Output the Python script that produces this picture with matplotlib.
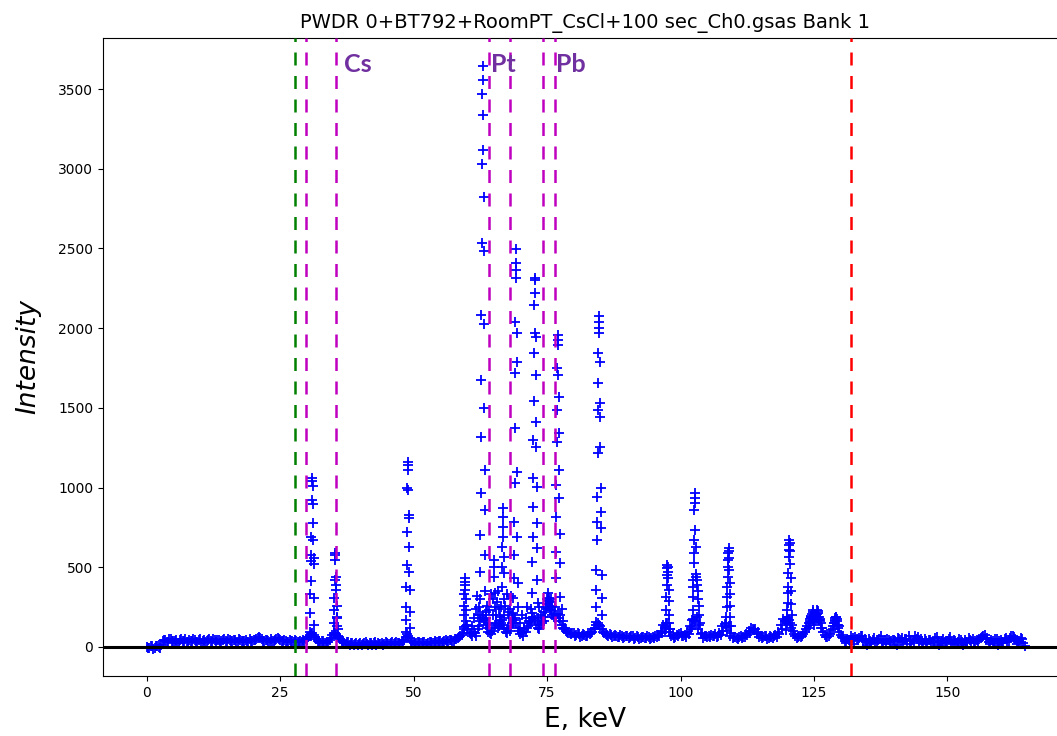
import matplotlib
matplotlib.use("Agg")
import matplotlib.pyplot as plt
import numpy as np

# ---------------- data ----------------
title = "PWDR 0+BT792+RoomPT_CsCl+100 sec_Ch0.gsas Bank 1"

# background channels, first set: start 0.0 keV, step 0.5 keV
bg_a_start, bg_step = 0.0, 0.5
bg_a_counts = [
    3, -9, 6, -5, 9, -7,
    38, 45, 30, 48, 36, 42, 28, 47, 39, 33,
    46, 37, 41, 29, 48, 40, 34, 45, 38, 50,
    31, 44, 39, 47, 33, 42, 36, 45, 30, 41,
    37, 44, 32, 40, 46, 52, 62, 48, 38, 43,
    31, 40, 45, 58, 44, 35, 40, 30, 38, 33,
    36, 29, 34, 40,
    45, 70, 85, 60, 40, 28, 35, 22, 30, 55, 90, 80, 60, 38, 25, 30, 15, 27, 20, 12,
    24, 18, 30, 14, 22, 26, 10, 21, 28, 16, 25, 19, 31, 22, 28, 20, 35, 60, 70, 40,
    28, 22, 33, 25, 30, 20, 34, 27, 36, 29, 38, 31, 42, 35, 45, 40, 52, 60, 75, 110,
    140, 90, 70, 85, 110, 160, 200, 140, 95, 80, 120, 150, 130, 170, 110, 85, 100, 150, 180, 120,
    80, 70, 95, 130, 160, 190, 140, 110, 160, 220, 270, 250, 200, 180, 210, 160, 120, 100, 90, 80,
    85, 75, 80, 70, 78, 72, 80, 95, 120, 150, 130, 95, 80, 70, 76, 66, 72, 64, 70, 62,
    68, 60, 66, 58, 64, 56, 62, 55, 60, 54, 58, 62, 70, 85, 120, 150, 110, 75, 62, 70,
    85, 72, 65, 80, 110, 160, 190, 140, 90, 70, 62, 60, 70, 80, 66, 75, 100, 150, 130, 85,
    65, 58, 62, 55, 65, 75, 90, 110, 115, 95, 70, 60, 66, 58, 62, 70, 64, 80, 110, 160,
    180, 150, 100, 70, 60, 65, 80, 110, 150, 190, 140, 210, 170, 120, 75, 60, 80, 130, 160, 120,
    75, 55, 28, 42, 66, 20, 50, 58, 66, 52, 14, 38, 45, 22, 42, 68, 40, 18, 44, 38,
    46, 12, 52, 58, 48, 20, 36, 44, 70, 60, 52, 16, 36, 44, 24, 32, 62, 10, 40, 30,
    38, 64, 18, 40, 32, 45, 15, 34, 56, 36, 22, 44, 50, 62, 75, 55, 20, 36, 48, 12,
    44, 24, 58, 40, 66, 64, 18, 35, 48, 8,
]
# background channels, second set: start 0.25 keV, step 0.5 keV
bg_b_start = 0.25
bg_b_counts = [
    -4, 7, -10, 4, -2, 10,
    44, 32, 50, 35, 40, 26, 45, 37, 49, 31,
    40, 52, 33, 44, 27, 43, 37, 48, 34, 42,
    46, 28, 41, 35, 50, 38, 43, 29, 47, 36,
    40, 30, 49, 38, 42, 58, 54, 40, 46, 35,
    48, 37, 52, 50, 38, 45, 32, 44, 36, 41,
    30, 40, 45, 52,
    60, 80, 75, 50, 32, 38, 26, 33, 42, 75, 85, 70, 48, 30, 20, 34, 22, 12, 28, 18,
    10, 27, 20, 25, 15, 30, 24, 18, 12, 29, 20, 26, 17, 32, 24, 30, 45, 80, 55, 33,
    20, 30, 24, 34, 18, 28, 32, 22, 30, 40, 28, 36, 32, 45, 38, 50, 55, 68, 90, 130,
    110, 80, 95, 70, 130, 180, 170, 120, 85, 100, 140, 120, 160, 140, 95, 120, 130, 170, 150, 100,
    90, 110, 120, 150, 180, 170, 120, 140, 190, 250, 290, 230, 190, 200, 180, 140, 110, 95, 85, 90,
    70, 88, 65, 82, 68, 86, 90, 110, 140, 140, 110, 85, 75, 80, 62, 78, 60, 74, 58, 72,
    56, 70, 52, 68, 50, 64, 58, 66, 50, 64, 68, 75, 100, 135, 130, 95, 68, 58, 76, 80,
    66, 74, 95, 130, 175, 165, 110, 80, 58, 72, 66, 78, 72, 62, 88, 130, 145, 100, 70, 58,
    64, 50, 68, 60, 82, 100, 120, 105, 80, 64, 55, 70, 52, 68, 58, 76, 95, 140, 175, 165,
    170, 120, 80, 55, 72, 70, 95, 130, 175, 160, 180, 190, 150, 95, 62, 70, 105, 150, 140, 95,
    62, 40, 52, 35, 55, 62, 45, 70, 40, 30, 48, 25, 55, 33, 50, 28, 44, 52, 30, 46,
    36, 55, 42, 30, 52, 66, 38, 28, 48, 40, 30, 50, 26, 46, 34, 54, 40, 28, 48, 22,
    48, 30, 44, 26, 50, 34, 42, 28, 46, 52, 36, 40, 58, 72, 48, 30, 44, 26, 50, 38,
    30, 52, 34, 56, 70, 48, 30, 56, 22,
]

# peak channels: energy (keV) and counts
peak_energy = [
    # Cs K-alpha
    30.55, 30.6, 30.65, 30.7, 30.75, 30.8, 30.85, 30.9, 30.95, 31.0,
    31.05, 31.1, 31.15, 31.2, 31.25, 31.3, 31.35, 31.4, 31.45,
    # Cs K-beta
    35.0, 35.05, 35.1, 35.15, 35.2, 35.25, 35.3, 35.35, 35.4, 35.45,
    35.5, 35.55, 35.6, 35.65, 35.7, 35.75, 35.8,
    # 48.9 keV
    48.5, 48.55, 48.6, 48.65, 48.7, 48.75, 48.8, 48.85, 48.9, 48.95,
    49.0, 49.05, 49.1, 49.15, 49.2, 49.25, 49.3, 49.35,
    # 59.6 keV
    59.35, 59.4, 59.45, 59.5, 59.55, 59.6, 59.65, 59.7, 59.75, 59.8, 59.85, 59.9,
    # main 62.9 keV
    62.35, 62.4, 62.45, 62.5, 62.55, 62.6, 62.65, 62.7, 62.75, 62.8,
    62.85, 62.9, 62.95, 63.0, 63.05, 63.1, 63.15, 63.2, 63.25, 63.3,
    63.35, 63.4, 63.45, 63.5,
    # 65.1 keV
    64.9, 64.95, 65.0, 65.05, 65.1, 65.15, 65.2,
    # 66.7 keV
    66.4, 66.45, 66.5, 66.55, 66.6, 66.65, 66.7, 66.75, 66.8, 66.85, 66.9, 66.95, 67.0,
    # cluster floor 61-78 keV
    61.0, 61.3, 61.6, 61.9, 62.1, 62.3, 63.6, 63.8, 64.0, 64.2, 64.4,
    65.4, 65.6, 65.8, 66.0, 66.2, 67.2, 67.4, 67.6, 67.8, 68.0, 68.2, 68.4,
    70.0, 70.3, 70.6, 71.0, 71.3, 71.6, 71.9, 73.5, 73.8, 74.1, 77.7, 78.0, 78.3,
    # 69.1 keV
    68.6, 68.65, 68.7, 68.75, 68.8, 68.85, 68.9, 68.95, 69.0, 69.05,
    69.1, 69.15, 69.2, 69.25, 69.3, 69.35, 69.4, 69.45, 69.5, 69.55,
    # 72.6 keV
    72.15, 72.2, 72.25, 72.3, 72.35, 72.4, 72.45, 72.5, 72.55, 72.6,
    72.65, 72.7, 72.75, 72.8, 72.85, 72.9, 72.95, 73.0, 73.05, 73.1,
    73.15, 73.2, 73.25, 73.3,
    # 74.4-76.2 hump
    74.4, 74.6, 74.8, 75.0, 75.1, 75.2, 75.3, 75.4, 75.5, 75.6, 75.7, 75.8, 76.0, 76.2,
    # 77.0 keV
    76.55, 76.6, 76.65, 76.7, 76.75, 76.8, 76.85, 76.9, 76.95, 77.0,
    77.05, 77.1, 77.15, 77.2, 77.25, 77.3, 77.35, 77.4, 77.45, 77.5,
    # 84.6 keV
    84.1, 84.15, 84.2, 84.25, 84.3, 84.35, 84.4, 84.45, 84.5, 84.55,
    84.6, 84.65, 84.7, 84.75, 84.8, 84.85, 84.9, 84.95, 85.0, 85.05,
    85.1, 85.15, 85.2, 85.25, 85.3,
    # 97.6 keV
    97.1, 97.2, 97.3, 97.35, 97.4, 97.45, 97.5, 97.55, 97.6, 97.65,
    97.7, 97.75, 97.8, 97.85, 97.9, 98.0,
    # 102.7 keV
    102.1, 102.2, 102.25, 102.3, 102.35, 102.4, 102.45, 102.5, 102.55, 102.6,
    102.65, 102.7, 102.75, 102.8, 102.85, 102.9, 102.95, 103.0, 103.1, 103.2,
    103.3, 103.4, 103.5, 103.6,
    # 109.0 keV
    108.5, 108.6, 108.65, 108.7, 108.75, 108.8, 108.85, 108.9, 108.95, 109.0,
    109.05, 109.1, 109.15, 109.2, 109.25, 109.3, 109.35, 109.4,
    # 120.4 keV
    119.8, 119.9, 119.95, 120.0, 120.05, 120.1, 120.15, 120.2, 120.25, 120.3,
    120.35, 120.4, 120.45, 120.5, 120.55, 120.6, 120.65, 120.7, 120.8, 120.9,
    # 125 keV doublet
    124.0, 124.2, 124.3, 124.4, 124.5, 124.6, 124.8, 124.9, 125.0, 125.2,
    125.4, 125.5, 125.6, 125.7, 125.8, 126.0, 126.1, 126.2, 126.4,
    # 129.2 keV
    128.6, 128.8, 128.9, 129.0, 129.1, 129.2, 129.3, 129.4, 129.5, 129.6,
]
peak_counts = [
    95, 215, 330, 415, 540, 580, 690, 920, 1040, 1060,
    1010, 900, 780, 670, 560, 520, 305, 140, 60,
    80, 150, 230, 310, 420, 575, 590, 545, 440, 390,
    360, 260, 190, 180, 130, 110, 60,
    95, 170, 250, 375, 515, 720, 1000, 1140, 1160, 1110,
    985, 830, 810, 630, 470, 355, 220, 120,
    125, 200, 260, 330, 390, 430, 410, 360, 300, 230, 160, 110,
    200, 300, 470, 703, 966, 1318, 1675, 2083, 2534, 3030,
    3469, 3645, 3557, 3337, 3118, 2823, 2484, 2026, 1500, 1110,
    860, 577, 350, 220,
    200, 300, 440, 545, 500, 340, 250,
    150, 250, 375, 500, 627, 750, 870, 815, 690, 565, 465, 300, 200,
    130, 180, 240, 320, 200, 250, 180, 260, 150, 230, 330,
    200, 280, 350, 240, 190, 260, 330, 220, 180, 240, 320, 200,
    150, 200, 120, 180, 250, 160, 240, 250, 200, 150, 240, 160, 120,
    150, 213, 307, 433, 577, 785, 1030, 1375, 1720, 2040,
    2365, 2497, 2410, 2315, 1970, 1790, 1100, 690, 400, 250,
    213, 339, 533, 690, 878, 1060, 1299, 1543, 1844, 2145,
    2315, 2302, 2220, 1970, 1945, 1706, 1412, 1255, 1004, 778,
    621, 420, 276, 180,
    160, 190, 240, 300, 270, 340, 290, 310, 240, 280, 300, 230, 260, 210,
    251, 433, 596, 816, 1016, 1286, 1487, 1750, 1926, 1957,
    1895, 1706, 1568, 1343, 1110, 935, 709, 527, 314, 200,
    157, 251, 358, 483, 671, 784, 941, 1217, 1487, 1656,
    1844, 1970, 2040, 2077, 2000, 1790, 1530, 1443, 1255, 997,
    847, 746, 452, 307, 201,
    95, 150, 235, 315, 390, 450, 495, 515, 500, 470,
    430, 360, 290, 200, 150, 110,
    125, 169, 232, 314, 376, 420, 527, 590, 671, 860,
    935, 966, 903, 734, 627, 460, 440, 420, 390, 350,
    300, 260, 200, 150,
    125, 188, 251, 314, 376, 439, 502, 546, 590, 621,
    600, 560, 480, 400, 330, 260, 190, 130,
    107, 150, 188, 232, 276, 339, 376, 464, 565, 608,
    640, 671, 650, 600, 520, 430, 350, 270, 200, 140,
    120, 150, 165, 180, 195, 210, 230, 220, 200, 170,
    200, 180, 230, 225, 215, 190, 175, 160, 120,
    110, 150, 170, 180, 190, 185, 175, 160, 140, 130,
]

# marker lines (keV)
green_line = [27.8]
magenta_lines = [29.9, 35.4, 64.2, 68.0, 74.2, 76.4]
red_line = [131.9]
element_labels = ["Cs", "Pt", "Pb"]
element_label_x = [37.0, 64.4, 76.6]

x_ticks = [0, 25, 50, 75, 100, 125, 150]
y_ticks = [0, 500, 1000, 1500, 2000, 2500, 3000, 3500]

# ---------------- figure ----------------
bg_a_energy = [bg_a_start + i * bg_step for i in range(len(bg_a_counts))]
bg_b_energy = [bg_b_start + i * bg_step for i in range(len(bg_b_counts))]
E = np.array(bg_a_energy + bg_b_energy + peak_energy)
I = np.array(bg_a_counts + bg_b_counts + peak_counts)

fig = plt.figure(figsize=(10.57, 7.36), dpi=100)
ax = fig.add_axes([103 / 1057, 60 / 736, (1067 - 103) / 1057, (676 - 38) / 736])

ax.plot(E, I, linestyle="none", marker="+", color="b", markersize=7, markeredgewidth=1.3, zorder=2)
ax.axhline(0, color="k", lw=2.2, zorder=3)

dash = (0, (5.2, 4.2))
for xv in green_line:
    ax.axvline(xv, color="g", lw=1.8, linestyle=dash, zorder=4)
for xv in magenta_lines:
    ax.axvline(xv, color="m", lw=1.8, linestyle=dash, zorder=4)
for xv in red_line:
    ax.axvline(xv, color="r", lw=1.8, linestyle=dash, zorder=4)

for lab, xv in zip(element_labels, element_label_x):
    ax.text(xv, 3607, lab, color="#7030A0", fontsize=18, fontweight="bold",
            family="Lato", ha="left", va="baseline", zorder=5)

ax.set_xlim(-8.2, 172.4)
ax.set_ylim(-182, 3820)
ax.set_xticks(x_ticks)
ax.set_yticks(y_ticks)
ax.tick_params(labelsize=10)
ax.set_title(title, fontsize=14, pad=7)
ax.set_xlabel("E, keV", fontsize=19, labelpad=5)
ax.set_ylabel("Intensity", fontsize=19, style="italic", labelpad=12)

fig.savefig("out.png", dpi=100)
